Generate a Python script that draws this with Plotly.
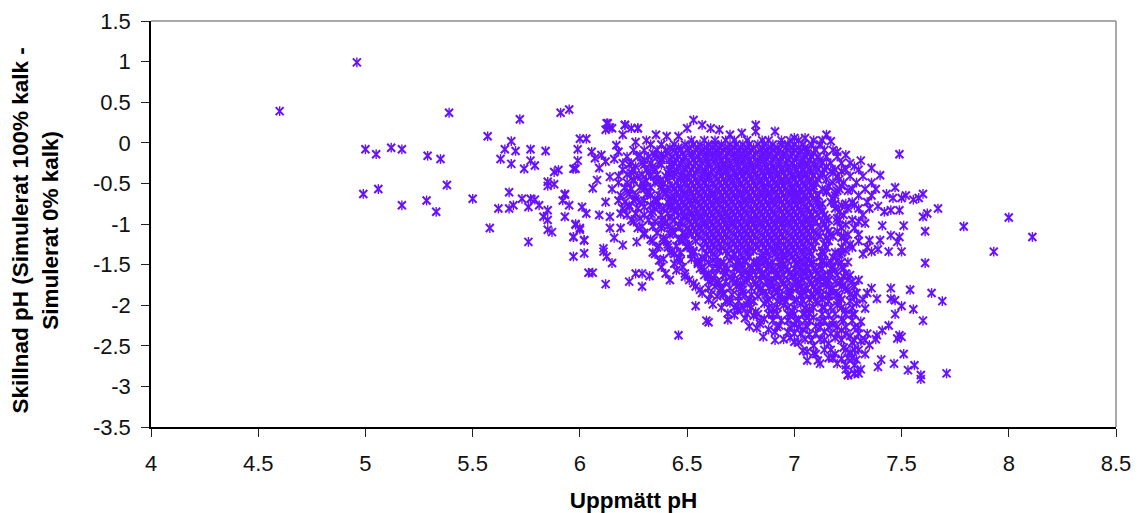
import plotly.graph_objects as go

x_ticks = [4, 4.5, 5, 5.5, 6, 6.5, 7, 7.5, 8, 8.5]
y_ticks = [1.5, 1, 0.5, 0, -0.5, -1, -1.5, -2, -2.5, -3, -3.5]
x_title = "Uppmätt pH"
y_title = "Skillnad pH (Simulerat 100% kalk -<br>Simulerat 0% kalk)"

# scattered points read one by one
sparse_x = [4.60,4.96,5.39,5.00,5.05,5.12,5.17,5.29,5.35,4.99,5.06,5.17,5.285,5.33,5.38,5.50,5.58,5.57,5.72,5.91,5.95,5.68,5.65,5.70,5.77,5.84,5.63,5.68,5.77,5.79,5.74,5.88,5.90,5.97,5.98,5.99,5.99,6.0,6.03,6.13,6.12,6.15,6.21,6.20,6.24,6.27,5.85,5.85,5.88,5.67,5.73,5.77,5.79,5.81,5.76,5.62,5.67,5.69,5.85,5.83,5.85,5.85,5.87,5.76,5.93,5.92,5.95,5.93,5.98,6.0,5.97,6.02,5.97,6.02,
 7.49,7.31,7.36,7.40,7.47,7.43,7.46,7.50,7.52,7.555,7.58,7.60,7.67,7.60,7.62,7.61,7.61,7.79,8.0,8.11,7.93,7.51,7.41,7.45,7.49,7.48,7.44,7.50,7.39,7.36,7.40,7.35,7.33,7.45,7.49,7.39,7.35,7.42,7.28,
 7.36,7.45,7.54,7.64,7.69,7.385,7.45,7.47,7.50,7.555,7.47,7.60,7.44,7.41,7.49,7.50,7.48,7.385,7.51,7.405,7.465,7.39,7.56,7.53,7.59,7.59,7.71,7.31,7.28,7.25,
 6.11,6.125,6.15,6.04,6.06,6.12,6.23,6.29,6.26,6.29,6.325,6.46,6.54,6.59,6.60,6.69,6.69,6.735,6.825,6.855,6.91,6.91,6.95,7.00,7.04,7.06,7.09,7.11,7.18,7.24,7.25,7.28,
 6.53,6.50,6.57,6.61,6.65,6.70,6.755,6.82,6.82,6.91,7.0,7.05,7.15,7.17,7.24,7.20,7.28,6.355,6.405,6.46,6.125,6.14,6.21,6.27,6.26,6.17,6.18,6.055,6.10,6.07,6.12,6.16,6.09,6.14,6.08,6.06,5.93,6.01,6.03,6.09,6.14,5.98,6.0,5.97,6.02,6.14,6.19,6.16,6.20,6.265,6.11]
sparse_y = [0.39,0.99,0.37,-0.08,-0.14,-0.06,-0.08,-0.16,-0.20,-0.63,-0.57,-0.77,-0.71,-0.85,-0.52,-0.69,-1.05,0.08,0.29,0.37,0.41,0.02,-0.08,-0.10,-0.08,-0.10,-0.20,-0.26,-0.22,-0.28,-0.32,-0.36,-0.335,-0.32,-0.32,-0.22,-0.08,0.05,0.05,0.24,0.16,0.18,0.22,0.10,0.18,0.18,-0.48,-0.53,-0.51,-0.61,-0.69,-0.69,-0.70,-0.77,-0.79,-0.81,-0.81,-0.77,-0.83,-0.91,-0.95,-1.07,-1.10,-1.22,-0.63,-0.71,-0.77,-0.91,-1.0,-1.07,-1.16,-1.20,-1.40,-1.36,
 -0.14,-0.22,-0.31,-0.40,-0.55,-0.63,-0.68,-0.68,-0.65,-0.70,-0.68,-0.63,-0.81,-0.91,-0.87,-1.09,-1.48,-1.03,-0.92,-1.16,-1.34,-1.02,-1.02,-1.14,-1.16,-1.22,-1.34,-1.34,-1.31,-1.34,-1.2,-1.2,-0.99,-0.83,-0.83,-0.78,-0.81,-0.85,-0.77,
 -1.79,-1.79,-1.81,-1.85,-1.95,-1.92,-1.92,-1.94,-2.01,-2.05,-2.11,-2.19,-2.25,-2.31,-2.37,-2.39,-2.41,-2.37,-2.60,-2.67,-2.72,-2.76,-2.74,-2.80,-2.86,-2.91,-2.84,-2.79,-2.84,-2.86,
 -1.34,-1.40,-1.48,-1.60,-1.60,-1.74,-1.71,-1.77,-1.61,-1.61,-1.64,-2.37,-2.01,-2.19,-2.21,-2.18,-2.10,-2.06,-2.28,-2.39,-2.33,-2.43,-2.42,-2.45,-2.56,-2.68,-2.59,-2.68,-2.65,-2.74,-2.86,-2.84,
 0.28,0.18,0.22,0.18,0.16,0.10,0.12,0.22,0.14,0.14,0.06,0.06,0.10,0.02,-0.15,-0.11,-0.29,0.10,0.08,0.08,0.24,0.19,0.22,0.18,0.01,-0.03,-0.11,-0.11,-0.15,-0.19,-0.23,-0.20,-0.31,-0.42,-0.46,-0.56,-0.64,-0.79,-0.87,-0.89,-0.91,-1.01,-1.05,-1.16,-1.2,-1.05,-1.05,-1.17,-1.26,-1.22,-1.30]

# lower tail of the cloud, point by point
tail_x = [6.62,6.66,6.7,6.74,6.78,6.82,6.86,6.9,6.95,6.99,7.03,7.07,7.11,7.14,7.2,7.24,7.29,7.33,
 6.72,6.77,6.81,6.86,6.9,6.94,6.98,7.02,7.05,7.09,7.12,7.16,7.22,7.27,7.31,
 6.79,6.84,6.88,6.93,6.97,7.0,7.04,7.07,7.1,7.14,7.18,7.22,7.26,7.3,7.34,7.38,
 6.98,7.02,7.05,7.09,7.12,7.16,7.19,7.23,7.27,7.31,7.35,
 7.06,7.1,7.14,7.19,7.22,7.26,7.29,7.33,7.12,7.2,7.24,7.28,7.3]
tail_y = [-1.99,-2.03,-1.97,-2.05,-2.0,-2.08,-1.98,-2.04,-2.0,-2.07,-1.99,-2.05,-1.97,-2.03,-2.0,-2.06,-1.98,-2.04,
 -2.12,-2.16,-2.13,-2.17,-2.11,-2.19,-2.13,-2.18,-2.1,-2.15,-2.2,-2.12,-2.17,-2.11,-2.2,
 -2.26,-2.23,-2.3,-2.25,-2.33,-2.24,-2.3,-2.36,-2.26,-2.33,-2.24,-2.31,-2.38,-2.28,-2.35,-2.42,
 -2.4,-2.46,-2.42,-2.5,-2.42,-2.47,-2.4,-2.52,-2.46,-2.44,-2.49,
 -2.57,-2.6,-2.55,-2.6,-2.66,-2.58,-2.67,-2.6,-2.72,-2.72,-2.79,-2.74,-2.84]

# dense cloud read band by band
band_y = [0.03,-0.02,-0.09,-0.17,-0.25,-0.33,-0.41,-0.49,-0.57,-0.65,-0.73,-0.81,-0.89,-0.97,-1.05,-1.13,-1.21,-1.29,-1.37,-1.45,-1.53,-1.61,-1.69,-1.77,-1.85,-1.93]
band_x = [
 [6.31,6.52,6.58,6.63,6.68,6.72,6.78,6.85,6.88,6.94,6.98,7.02,7.09,7.13],
 [6.33,6.38,6.44,6.49,6.53,6.56,6.6,6.63,6.66,6.7,6.73,6.76,6.79,6.83,6.86,6.9,6.94,6.97,7.0,7.04,7.08,7.12],
 [6.25,6.3,6.36,6.4,6.44,6.47,6.5,6.54,6.57,6.6,6.64,6.67,6.7,6.74,6.77,6.8,6.84,6.87,6.9,6.93,6.97,7.0,7.03,7.06,7.1,7.14,7.18],
 [6.22,6.27,6.32,6.36,6.39,6.43,6.46,6.49,6.52,6.55,6.59,6.62,6.65,6.68,6.72,6.75,6.78,6.81,6.85,6.88,6.91,6.95,6.98,7.01,7.05,7.08,7.11,7.15,7.2],
 [6.2,6.24,6.29,6.33,6.37,6.44,6.47,6.51,6.54,6.57,6.6,6.63,6.67,6.7,6.73,6.76,6.8,6.83,6.86,6.89,6.93,6.96,6.99,7.03,7.06,7.09,7.13,7.17,7.22,7.26],
 [6.2,6.25,6.31,6.35,6.42,6.45,6.49,6.52,6.55,6.58,6.62,6.65,6.68,6.71,6.75,6.78,6.81,6.84,6.88,6.91,6.94,6.97,7.01,7.04,7.07,7.11,7.14,7.19,7.24,7.3],
 [6.18,6.27,6.33,6.4,6.44,6.47,6.5,6.53,6.57,6.6,6.63,6.66,6.7,6.73,6.76,6.79,6.83,6.86,6.89,6.92,6.96,6.99,7.02,7.05,7.09,7.12,7.2,7.26,7.32],
 [6.18,6.22,6.29,6.35,6.39,6.45,6.49,6.52,6.55,6.58,6.62,6.65,6.68,6.71,6.75,6.78,6.81,6.84,6.88,6.91,6.94,6.97,7.01,7.04,7.07,7.1,7.18,7.23,7.29,7.36],
 [6.15,6.24,6.3,6.38,6.44,6.47,6.51,6.54,6.57,6.6,6.64,6.67,6.7,6.73,6.77,6.8,6.83,6.86,6.9,6.93,6.96,6.99,7.03,7.06,7.09,7.13,7.21,7.27,7.33,7.38],
 [6.19,6.26,6.33,6.37,6.43,6.46,6.49,6.53,6.56,6.59,6.62,6.66,6.69,6.72,6.75,6.79,6.82,6.85,6.88,6.92,6.95,6.98,7.01,7.05,7.08,7.11,7.19,7.3,7.36],
 [6.12,6.21,6.28,6.36,6.41,6.45,6.48,6.51,6.55,6.58,6.61,6.64,6.68,6.71,6.74,6.77,6.81,6.84,6.87,6.9,6.94,6.97,7.0,7.03,7.07,7.1,7.17,7.27,7.34],
 [6.2,6.27,6.35,6.39,6.44,6.47,6.5,6.54,6.57,6.6,6.63,6.67,6.7,6.73,6.76,6.8,6.83,6.86,6.89,6.93,6.96,6.99,7.02,7.06,7.09,7.12,7.19,7.25,7.3],
 [6.22,6.3,6.38,6.46,6.49,6.52,6.56,6.59,6.62,6.65,6.69,6.72,6.75,6.78,6.82,6.85,6.88,6.91,6.95,6.98,7.01,7.04,7.08,7.11,7.14,7.23,7.32],
 [6.25,6.35,6.4,6.47,6.51,6.54,6.58,6.61,6.64,6.67,6.71,6.74,6.77,6.8,6.84,6.87,6.9,6.93,6.97,7.0,7.03,7.06,7.1,7.13,7.2,7.3],
 [6.27,6.38,6.43,6.5,6.53,6.56,6.6,6.63,6.66,6.69,6.73,6.76,6.79,6.82,6.86,6.89,6.92,6.95,6.99,7.02,7.05,7.08,7.12,7.15,7.22,7.28],
 [6.3,6.42,6.49,6.52,6.55,6.59,6.62,6.65,6.68,6.72,6.75,6.78,6.81,6.85,6.88,6.91,6.94,6.98,7.01,7.04,7.07,7.11,7.17,7.25,7.3],
 [6.34,6.39,6.48,6.54,6.58,6.61,6.64,6.67,6.71,6.74,6.77,6.8,6.84,6.87,6.9,6.93,6.97,7.0,7.03,7.06,7.1,7.16,7.24,7.3],
 [6.36,6.41,6.5,6.57,6.6,6.63,6.66,6.7,6.73,6.76,6.79,6.83,6.86,6.89,6.92,6.96,6.99,7.02,7.05,7.09,7.15,7.22,7.27,7.34],
 [6.35,6.44,6.52,6.59,6.62,6.69,6.72,6.75,6.78,6.85,6.88,6.91,6.95,6.98,7.01,7.04,7.08,7.14,7.21,7.32],
 [6.37,6.47,6.55,6.62,6.7,6.74,6.77,6.84,6.87,6.94,6.97,7.0,7.03,7.07,7.13,7.2],
 [6.38,6.48,6.57,6.65,6.73,6.8,6.83,6.89,6.93,6.96,7.02,7.06,7.12,7.18,7.22],
 [6.4,6.49,6.6,6.68,6.75,6.79,6.85,6.92,6.98,7.01,7.05,7.11,7.17,7.24],
 [6.42,6.51,6.62,6.71,6.78,6.84,6.91,6.97,7.04,7.1,7.16,7.25,7.3],
 [6.54,6.63,6.73,6.83,6.9,6.96,7.03,7.09,7.15,7.22,7.28],
 [6.57,6.67,6.76,6.85,6.92,6.98,7.05,7.11,7.18,7.29,7.34],
 [6.6,6.7,6.79,6.88,6.94,7.01,7.07,7.13,7.22,7.32],
]

# marks between the bands, where the cloud is solid
fill_y = [-0.06,-0.13,-0.21,-0.29,-0.37,-0.45,-0.53,-0.61,-0.69,-0.77,-0.85,-0.93,-1.01,-1.09,-1.17,-1.25,-1.33,-1.41,-1.49,-1.57,-1.65,-1.73,-1.81,-1.89]
fill_x = [
 [6.42,6.46,6.51,6.55,6.59,6.62,6.65,6.69,6.72,6.75,6.78,6.81,6.85,6.89,6.92,6.96,6.99,7.02,7.05],
 [6.34,6.41,6.45,6.48,6.52,6.56,6.59,6.62,6.65,6.69,6.72,6.75,6.78,6.82,6.85,6.88,6.92,6.95,6.99,7.02,7.06,7.09],
 [6.3,6.38,6.42,6.45,6.48,6.53,6.56,6.59,6.63,6.66,6.69,6.73,6.76,6.79,6.83,6.86,6.9,6.93,6.97,7.0,7.04,7.07,7.12],
 [6.26,6.34,6.43,6.46,6.5,6.53,6.56,6.6,6.64,6.67,6.7,6.74,6.77,6.8,6.83,6.87,6.9,6.93,6.97,7.0,7.03,7.06,7.1,7.15],
 [6.24,6.32,6.41,6.44,6.48,6.51,6.54,6.58,6.61,6.65,6.68,6.72,6.75,6.78,6.82,6.85,6.88,6.92,6.95,6.98,7.02,7.05,7.08,7.13,7.18],
 [6.25,6.36,6.41,6.47,6.5,6.54,6.57,6.6,6.64,6.67,6.7,6.74,6.77,6.8,6.84,6.87,6.9,6.94,6.97,7.0,7.03,7.07,7.11,7.15,7.21],
 [6.3,6.38,6.43,6.46,6.5,6.53,6.56,6.59,6.63,6.66,6.69,6.72,6.76,6.79,6.82,6.86,6.89,6.92,6.95,6.99,7.02,7.05,7.09,7.16,7.22],
 [6.22,6.32,6.4,6.45,6.49,6.52,6.55,6.58,6.62,6.65,6.68,6.71,6.75,6.78,6.81,6.85,6.88,6.91,6.94,6.98,7.01,7.04,7.07,7.15,7.19],
 [6.26,6.35,6.43,6.47,6.5,6.54,6.57,6.6,6.64,6.67,6.7,6.73,6.77,6.8,6.83,6.86,6.9,6.93,6.96,7.0,7.03,7.06,7.1,7.18],
 [6.23,6.33,6.42,6.46,6.49,6.52,6.56,6.59,6.62,6.65,6.69,6.72,6.75,6.78,6.82,6.85,6.88,6.91,6.95,6.98,7.01,7.05,7.12,7.22],
 [6.34,6.44,6.48,6.51,6.55,6.58,6.61,6.64,6.68,6.71,6.74,6.77,6.81,6.84,6.87,6.9,6.94,6.97,7.0,7.03,7.07,7.13,7.21],
 [6.28,6.42,6.49,6.53,6.56,6.6,6.63,6.66,6.7,6.73,6.76,6.8,6.83,6.86,6.89,6.93,6.96,6.99,7.02,7.06,7.09,7.15,7.2],
 [6.38,6.48,6.52,6.55,6.58,6.62,6.65,6.68,6.71,6.75,6.78,6.81,6.84,6.88,6.91,6.94,6.97,7.01,7.04,7.07,7.14,7.24],
 [6.43,6.51,6.54,6.57,6.61,6.64,6.67,6.7,6.74,6.77,6.8,6.83,6.87,6.9,6.93,6.96,7.0,7.03,7.06,7.09,7.16,7.2],
 [6.39,6.49,6.56,6.6,6.63,6.66,6.69,6.73,6.76,6.79,6.82,6.86,6.89,6.92,6.95,6.99,7.02,7.05,7.08,7.15,7.22],
 [6.41,6.51,6.59,6.62,6.65,6.69,6.72,6.75,6.78,6.82,6.85,6.88,6.92,6.95,6.98,7.01,7.04,7.08,7.14,7.26],
 [6.43,6.53,6.61,6.65,6.68,6.74,6.78,6.81,6.87,6.91,6.94,6.97,7.0,7.04,7.07,7.13,7.24],
 [6.46,6.57,6.64,6.71,6.79,6.85,6.92,6.95,6.99,7.05,7.12,7.18],
 [6.44,6.55,6.66,6.75,6.82,6.88,6.95,7.01,7.08,7.15],
 [6.45,6.58,6.67,6.77,6.84,6.91,6.97,7.04,7.1,7.19],
 [6.49,6.6,6.7,6.79,6.86,6.93,6.99,7.06,7.12,7.23],
 [6.53,6.65,6.75,6.82,6.89,6.95,7.02,7.08,7.15,7.21],
 [6.56,6.66,6.76,6.84,6.91,6.98,7.04,7.1,7.17,7.25],
 [6.64,6.74,6.83,6.9,6.97,7.03,7.09,7.16,7.21,7.28],
]

# left shoulder of the cloud, and the lower body, at their own levels
patch_y = [-0.15,-0.27,-0.39,-0.47,-0.55,-0.63,-0.71,-0.79,-0.87,-0.95,-1.03,-1.11,-1.19,-1.27,-1.35,-1.43,
           -0.35,-0.59,-0.75,-0.95,-1.15,-1.35,
           -1.47,-1.55,-1.63,-1.71,-1.79,-1.87,-1.95,-2.03,-2.11,-2.19,-2.27,-2.35,-2.43,-2.55,-2.65]
patch_x = [
 [6.28,6.35,6.38],[6.23,6.3,6.38,6.42],[6.22,6.29,6.36,6.42],[6.25,6.31,6.37],[6.21,6.28,6.33,6.41],[6.23,6.31,6.4],
 [6.18,6.25,6.3,6.36,6.42],[6.23,6.3,6.37,6.42],[6.19,6.26,6.33,6.41],[6.24,6.32,6.38,6.44],[6.29,6.34,6.41,6.46],
 [6.3,6.36,6.44,6.48],[6.33,6.4,6.46],[6.37,6.45,6.5],[6.34,6.42,6.47,6.53],[6.39,6.46,6.52,6.58],
 [7.17,7.22],[7.15,7.2,7.25],[7.13,7.19,7.24],[7.16,7.21,7.27],[7.12,7.18,7.23],[7.13,7.19,7.22],
 [6.55,6.6,6.64,6.67,6.73,6.77,6.81,6.83,6.86,6.9,6.93,7.02,7.05,7.09,7.13,7.17,7.22,7.25],
 [6.56,6.62,6.64,6.69,6.72,6.75,6.8,6.83,6.87,6.9,6.94,7.0,7.03,7.06,7.09,7.13,7.17,7.23],
 [6.58,6.63,6.67,6.72,6.76,6.82,6.85,6.88,6.91,6.95,7.0,7.03,7.08,7.14,7.16,7.2,7.26],
 [6.6,6.64,6.68,6.73,6.77,6.81,6.87,6.89,6.94,7.0,7.02,7.07,7.12,7.14,7.19,7.22,7.27],
 [6.6,6.66,6.7,6.75,6.8,6.85,6.88,6.93,6.99,7.01,7.06,7.12,7.18,7.24],
 [6.61,6.67,6.71,6.77,6.8,6.87,6.94,6.98,7.03,7.08,7.13,7.16,7.2,7.26],
 [6.68,6.74,6.78,6.81,6.87,6.92,6.96,7.0,7.04,7.1,7.16,7.2,7.26],
 [6.72,6.76,6.8,6.88,6.92,6.97,7.0,7.05,7.09,7.13,7.17,7.22,7.27],
 [6.78,6.83,6.88,6.92,6.97,7.0,7.04,7.07,7.13,7.19,7.24,7.28],
 [6.84,6.9,6.97,7.01,7.05,7.07,7.14,7.18,7.23,7.27],
 [6.92,6.98,7.02,7.06,7.12,7.16,7.2,7.24,7.28],
 [7.0,7.03,7.1,7.17,7.2,7.24,7.3],
 [7.08,7.14,7.22,7.28,7.33],
 [7.17,7.24,7.28,7.3],
 [7.16,7.25,7.27],
]

xs = sparse_x + tail_x + [v for row in band_x for v in row] + [v for row in fill_x for v in row] + [v for row in patch_x for v in row]
ys = sparse_y + tail_y + [b for b, row in zip(band_y, band_x) for _ in row] + [b for b, row in zip(fill_y, fill_x) for _ in row] + [b for b, row in zip(patch_y, patch_x) for _ in row]
COLOR = "#6611FF"

fig = go.Figure()
fig.add_trace(go.Scatter(x=xs, y=ys, mode="markers", showlegend=False,
    marker=dict(symbol="x-thin-open", size=8, color=COLOR, line=dict(color=COLOR, width=2))))
fig.add_trace(go.Scatter(x=xs, y=ys, mode="markers", showlegend=False,
    marker=dict(symbol="line-ns-open", size=7, color=COLOR, line=dict(color=COLOR, width=1.4))))

fig.add_shape(type="line", xref="paper", yref="paper", x0=0, x1=1, y0=1, y1=1, line=dict(color="#8c8c8c", width=1.5))
fig.add_shape(type="line", xref="paper", yref="paper", x0=1, x1=1, y0=0, y1=1, line=dict(color="#8c8c8c", width=1.5))
fig.add_annotation(text=f"<b>{y_title}</b>", xref="paper", yref="paper", x=-0.1197, y=0.485,
    xanchor="center", yanchor="middle", textangle=-90, showarrow=False,
    font=dict(family="Liberation Sans, Arial, sans-serif", size=22.5, color="black"))

tick_font = dict(family="Liberation Sans, Arial, sans-serif", size=22, color="#111111")
title_font = dict(family="Liberation Sans, Arial, sans-serif", size=22.5, color="black")
axis = dict(showgrid=False, zeroline=False, showline=True, linecolor="black", linewidth=1.6,
            ticks="outside", ticklen=8, tickwidth=1.3, tickcolor="#222222", tickfont=tick_font)
fig.update_xaxes(range=[4, 8.5], tickmode="array", tickvals=x_ticks, ticktext=[str(v) for v in x_ticks],
    ticklabelstandoff=8, title=dict(text=f"<b>{x_title}</b>", font=title_font, standoff=18), **axis)
fig.update_yaxes(range=[-3.5, 1.5], tickmode="array", tickvals=y_ticks, ticktext=[str(v) for v in y_ticks],
    ticklabelstandoff=6, **axis)
fig.update_layout(width=1140, height=513, plot_bgcolor="white", paper_bgcolor="white",
    margin=dict(l=151, r=24, t=21, b=86, autoexpand=False))
fig.write_html("out.html", config=dict(displayModeBar=False), post_script="document.body.style.margin='0';")
